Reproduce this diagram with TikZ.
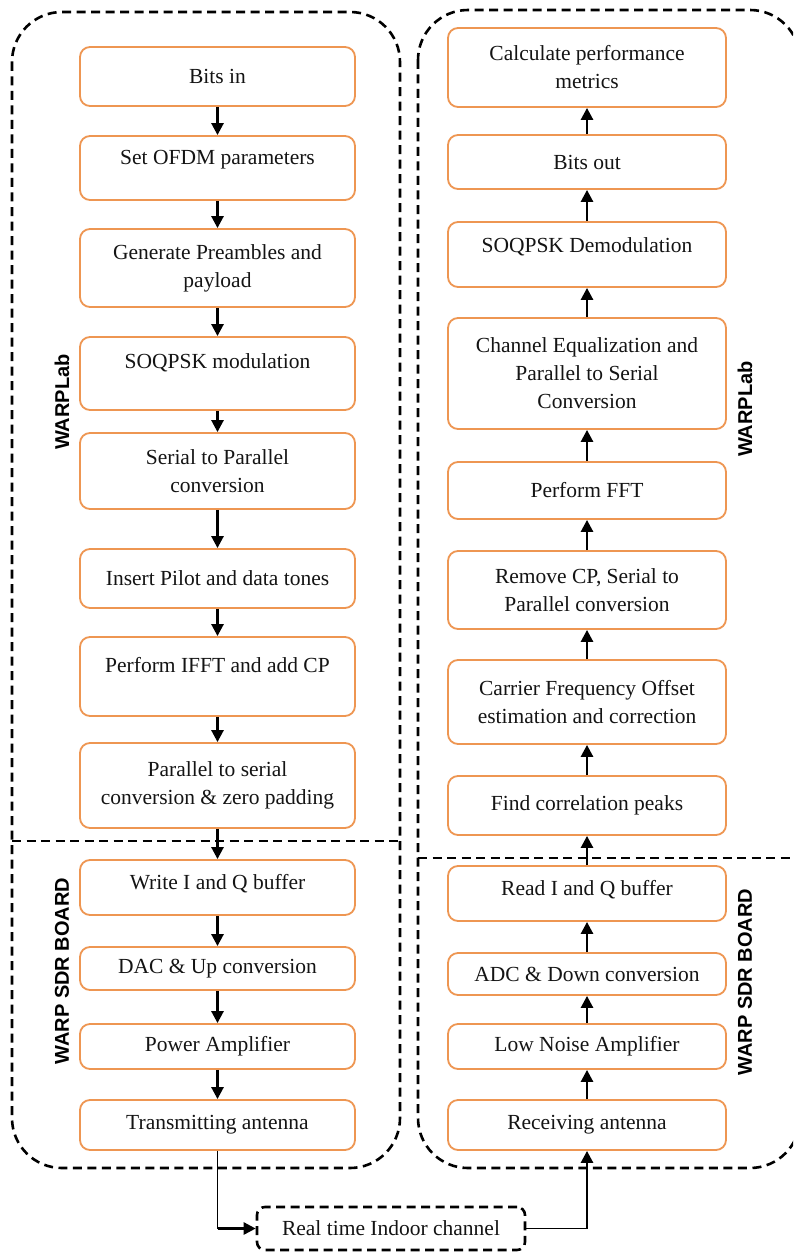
\documentclass[tikz,border=0pt]{standalone}
\usepackage{fontspec}
\setmainfont{Liberation Serif}
\newfontfamily\labfont{Liberation Sans}
\usetikzlibrary{arrows.meta}
\definecolor{boxorange}{RGB}{238,150,82}
\definecolor{txt}{RGB}{20,20,20}
\newcommand{\upby}[2]{\raisebox{#1}[\height][\depth]{#2}}
\tikzset{
  box/.style={draw=boxorange, line width=1.8pt, rounded corners=10pt, fill=white,
    align=center, text=txt, inner sep=2pt,
    font=\fontsize{21.5}{28}\selectfont},
  lbox/.style={box, minimum width=275pt},
  rbox/.style={box, minimum width=278pt},
  region/.style={draw=black, line width=2.6pt, dash pattern=on 9pt off 5.5pt},
  chanbox/.style={draw=black, line width=2.6pt, dash pattern=on 9pt off 5.5pt,
    rounded corners=8pt, minimum width=268pt, minimum height=43pt, text=txt,
    font=\fontsize{21.5}{28}\selectfont},
  arr/.style={line width=2.6pt, -{Triangle[length=12pt,width=12pt]}},
  sidelabel/.style={rotate=90, font=\labfont\bfseries\fontsize{20}{24}\selectfont, text=black}
}
\begin{document}
\begin{tikzpicture}[x=1pt,y=-1pt]
\useasboundingbox (0,0) rectangle (793,1252);
\clip (0,0) rectangle (793,1252);
\fill[white] (0,0) rectangle (793,1252);

% dashed regions
\draw[region, rounded corners=50pt] (12,12) rectangle (400,1168);
\draw[region] (12,841) -- (400,841);
\draw[region, rounded corners=50pt] (418,10) rectangle (800,1168);
\draw[region] (418,858) -- (800,858);

% side labels
\node[sidelabel] (wl1) at (62,402) {WARPLab};
\node[sidelabel] (ws1) at (62,971) {WARP SDR BOARD};
\node[sidelabel] (wl2) at (745,409) {WARPLab};
\node[sidelabel] (ws2) at (745,982) {WARP SDR BOARD};

% left column
\node[lbox, minimum height=59pt] (L1) at (217.5,76.5) {Bits in};
\node[lbox, minimum height=64pt] (L2) at (217.5,168) {\upby{8pt}{Set OFDM parameters}};
\node[lbox, minimum height=78pt] (L3) at (217.5,268) {Generate Preambles and\\payload};
\node[lbox, minimum height=73pt] (L4) at (217.5,373.5) {\upby{11pt}{SOQPSK modulation}};
\node[lbox, minimum height=76pt] (L5) at (217.5,471) {Serial to Parallel\\conversion};
\node[lbox, minimum height=59pt] (L6) at (217.5,578.5) {Insert Pilot and data tones};
\node[lbox, minimum height=79pt] (L7) at (217.5,676.5) {\upby{11pt}{Perform IFFT and add CP}};
\node[lbox, minimum height=85pt] (L8) at (217.5,785.5) {Parallel to serial\\conversion \& zero padding};
\node[lbox, minimum height=55pt] (L9) at (217.5,887.5) {\upby{4pt}{Write I and Q buffer}};
\node[lbox, minimum height=43pt] (L10) at (217.5,968.5) {DAC \& Up conversion};
\node[lbox, minimum height=45pt] (L11) at (217.5,1046.5) {Power Amplifier};
\node[lbox, minimum height=50pt] (L12) at (217.5,1125) {Transmitting antenna};

% right column
\node[rbox, minimum height=79pt] (R1) at (587,67.5) {Calculate performance\\metrics};
\node[rbox, minimum height=54pt] (R2) at (587,162) {Bits out};
\node[rbox, minimum height=65pt] (R3) at (587,254.5) {\upby{8pt}{SOQPSK Demodulation}};
\node[rbox, minimum height=111pt] (R4) at (587,373.5) {Channel Equalization and\\Parallel to Serial\\Conversion};
\node[rbox, minimum height=57pt] (R5) at (587,490.5) {Perform FFT};
\node[rbox, minimum height=78pt] (R6) at (587,590) {Remove CP, Serial to\\Parallel conversion};
\node[rbox, minimum height=84pt] (R7) at (587,702) {Carrier Frequency Offset\\estimation and correction};
\node[rbox, minimum height=59pt] (R8) at (587,805.5) {Find correlation peaks};
\node[rbox, minimum height=55pt] (R9) at (587,893.5) {\upby{4pt}{Read I and Q buffer}};
\node[rbox, minimum height=42pt] (R10) at (587,974) {ADC \& Down conversion};
\node[rbox, minimum height=45pt] (R11) at (587,1046.5) {Low Noise Amplifier};
\node[rbox, minimum height=50pt] (R12) at (587,1125) {Receiving antenna};

% channel
\node[chanbox] (ch) at (391,1228.5) {Real time Indoor channel};

% left arrows (downward)
\foreach \a/\b in {L1/L2,L2/L3,L3/L4,L4/L5,L5/L6,L6/L7,L7/L8,L8/L9,L9/L10,L10/L11,L11/L12}
  \draw[arr] (\a.south) -- (\b.north);
% right arrows (upward)
\foreach \a/\b in {R12/R11,R11/R10,R10/R9,R9/R8,R8/R7,R7/R6,R6/R5,R5/R4,R4/R3,R3/R2,R2/R1}
  \draw[arr] (\a.north) -- (\b.south);

% channel connections
\coordinate (t1) at (L12.south |- ch.west);
\draw[line width=1.2pt] (L12.south) -- (t1);
\draw[arr] (t1) -- (ch.west);
\coordinate (r1) at (R12.south |- ch.east);
\draw[line width=1.8pt] (ch.east) -- (r1);
\draw[arr] (r1) -- (R12.south);
\end{tikzpicture}
\end{document}
